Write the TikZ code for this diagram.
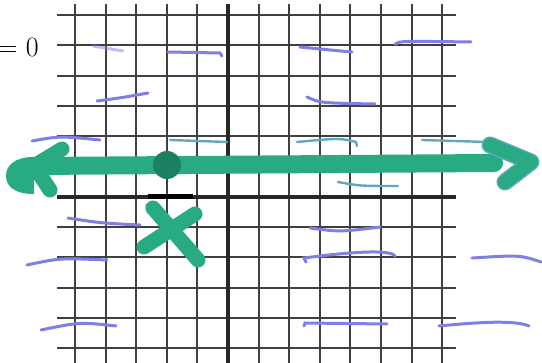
\documentclass[tikz,border=0pt]{standalone}
\usepackage{fontspec}
\usepackage{tikz}
\definecolor{penGreen}{RGB}{40,170,130}
\definecolor{penDark}{RGB}{28,128,98}
\definecolor{penBlue}{RGB}{128,128,228}
\definecolor{penTeal}{RGB}{96,168,190}
\definecolor{gridGray}{RGB}{64,64,64}

\begin{document}
\begin{tikzpicture}[x=1pt,y=-1pt, gridline/.style={gridGray,line width=2pt}, axisline/.style={gridGray!60!black,line width=4pt}, ink/.style={penGreen,line width=15pt,line cap=round,line join=round}, scrib/.style={penBlue,line width=3pt,line cap=round}, tealscrib/.style={penTeal,line width=2.4pt,line cap=round}]
\useasboundingbox (0,0) rectangle (542,363);
% grid and axes
\foreach \i in {0,...,12} \draw[gridline] (75+30.6*\i,4) -- (75+30.6*\i,363);
\foreach \j in {0,...,11} \draw[gridline] (57,15+30.3*\j) -- (456,15+30.3*\j);
\draw[axisline] (228,4) -- (228,363);
\draw[axisline] (57,196.8) -- (456,196.8);
\draw[line width=5pt,black] (148,196.8) -- (193,196.8);
\node[anchor=east,inner sep=0pt,font=\fontsize{28}{32}\selectfont] (eq) at (39,47) {= 0};
% blue strokes
\draw[scrib,opacity=.5] (93,46) -- (123,51);
\draw[scrib] (97,101) .. controls (120,98) .. (148,93);
\draw[scrib] (168,52) -- (220,53) -- (222,56);
\draw[scrib] (300,47) .. controls (330,50) .. (352,52);
\draw[scrib] (395,44) .. controls (400,41) .. (471,42);
\draw[scrib] (307,97) .. controls (320,103) .. (375,104);
\draw[scrib] (32,141) .. controls (60,136) .. (100,140);
\draw[scrib] (68,218) .. controls (100,223) .. (140,225);
\draw[scrib] (27,265) .. controls (60,258) .. (107,260);
\draw[scrib] (147,205) -- (148,212);
\draw[scrib] (310,228) .. controls (340,232) .. (380,227);
\draw[scrib] (306,262) -- (304,258) .. controls (350,252) and (390,249) .. (395,256);
\draw[scrib] (472,258) .. controls (520,255) .. (541,262);
\draw[scrib] (41,330) .. controls (80,322) .. (116,326);
\draw[scrib] (304,326) -- (305,323) -- (387,324);
\draw[scrib] (439,326) .. controls (480,322) and (515,320) .. (529,326);
\draw[tealscrib] (170,140) -- (227,142);
\draw[tealscrib] (297,142) .. controls (340,138) .. (356,142) -- (357,146);
\draw[tealscrib] (422,140) -- (487,142);
\draw[tealscrib] (338,182) .. controls (360,186) .. (398,186);
% green line with arrows, dot and cross
\fill[penGreen] (34,157) .. controls (14,157) and (6,166) .. (6,176) .. controls (6,186) and (14,194) .. (34,194) -- cycle;
\draw[ink,line width=18pt] (32,166) -- (494,163);
\draw[ink,line width=15pt] (62,149) -- (34,166) -- (50,190);
\draw[penTeal,line width=17pt,line cap=round,line join=round] (490,145) -- (531,162) -- (505,182);
\draw[ink,line width=14pt] (490,145) -- (531,162) -- (505,182);
\fill[penDark] (167,165) circle[radius=14];
\draw[ink,line width=15pt] (153,208) -- (198,260);
\draw[ink,line width=15pt] (195,214) -- (144,247);
\end{tikzpicture}
\end{document}
